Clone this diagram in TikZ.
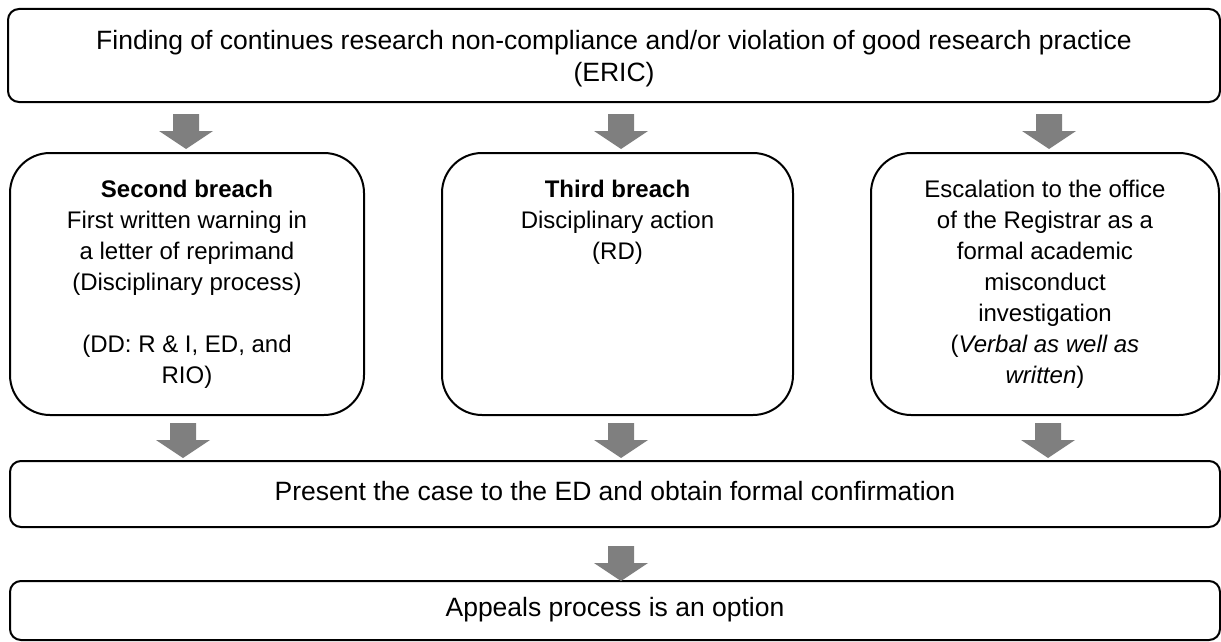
\documentclass[tikz,border=0pt]{standalone}
\usepackage{fontspec}
\setmainfont{Liberation Sans}
\definecolor{arrowgrey}{HTML}{7F7F7F}
\newcommand\grarrow[1]{\fill[arrowgrey] (#1) ++(-13,0) -- ++(26,0) -- ++(0,-17) -- ++(14,0) -- ++(-27,-18) -- ++(-27,18) -- ++(14,0) -- cycle;}
\begin{document}
\begin{tikzpicture}[x=1pt,y=1pt,
  box/.style={draw, line width=2pt, rounded corners=11pt, inner sep=0pt, align=center, fill=white,
    font=\fontsize{26.5}{32}\selectfont},
  bigbox/.style={box, rounded corners=40pt, minimum height=262pt,
    font=\fontsize{24}{31}\selectfont}]
\useasboundingbox (0,0) rectangle (1221,-642);

\node[box, minimum width=1212pt, minimum height=93pt] (top) at (614,-55.5)
  {\parbox[c][64pt][t]{1190pt}{\centering\fontsize{26.5}{32}\selectfont
   \rule{0pt}{26.5pt}Finding of continues research non-compliance and/or violation of good research practice\\\strut(ERIC)}};

\node[bigbox, minimum width=354pt] (b1) at (187,-284)
  {\parbox[c][217pt][t]{340pt}{\centering\fontsize{24}{31}\selectfont
   \strut\textbf{Second breach}\\First written warning in\\a letter of reprimand\\(Disciplinary process)\\~\\(DD: R \& I, ED, and\\RIO)}};

\node[bigbox, minimum width=351pt] (b2) at (617.5,-284)
  {\parbox[c][217pt][t]{340pt}{\centering\fontsize{24}{31}\selectfont
   \strut\textbf{Third breach}\\Disciplinary action\\(RD)}};

\node[bigbox, minimum width=348pt] (b3) at (1045,-284)
  {\parbox[c][217pt][t]{340pt}{\centering\fontsize{24}{31}\selectfont
   \strut Escalation to the office\\of the Registrar as a\\formal academic\\misconduct\\investigation\\(\textit{Verbal as well as}\\\textit{written})}};

\node[box, minimum width=1210pt, minimum height=66pt] (present) at (615,-494)
  {\strut Present the case to the ED and obtain formal confirmation};

\node[box, minimum width=1210pt, minimum height=59pt] (appeal) at (615,-610.5)
  {\strut Appeals process is an option};

% block arrows between the boxes
\path (top.south -| b1.north) ++(-1,-11) coordinate (a1);
\path (top.south -| b2.north) ++(3.5,-11) coordinate (a2);
\path (top.south -| b3.north) ++(4,-11) coordinate (a3);
\path (b1.south) ++(-4,-7) coordinate (a4);
\path (b2.south) ++(3.5,-7) coordinate (a5);
\path (b3.south) ++(3,-7) coordinate (a6);
\path (present.south -| b2.south) ++(3.5,-18) coordinate (a7);
\grarrow{a1}
\grarrow{a2}
\grarrow{a3}
\grarrow{a4}
\grarrow{a5}
\grarrow{a6}
\grarrow{a7}
\end{tikzpicture}
\end{document}
